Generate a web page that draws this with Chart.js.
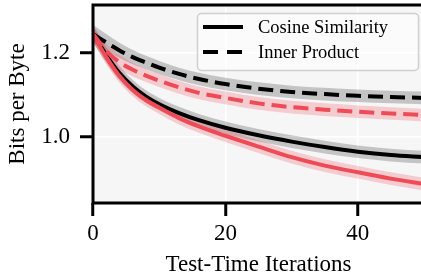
<!DOCTYPE html>
<html>
<head>
<meta charset="utf-8">
<script src="https://cdn.jsdelivr.net/npm/chart.js@4.4.1/dist/chart.umd.min.js"></script>
<style>
    html, body { margin: 0; padding: 0; background: #fff; overflow: hidden; }
    #wrap { position: relative; width: 424px; height: 280px; }
</style>
</head>
<body>
<div id="wrap"><canvas id="bppChart"></canvas></div>
<script>
// values
const iterations = [0, 2, 4, 6, 8, 10, 13, 16, 20, 25, 30, 35, 40, 45, 50];

const cosineBlack = [1.245, 1.195, 1.152, 1.120, 1.096, 1.078, 1.057, 1.040, 1.022, 1.004, 0.989, 0.976, 0.965, 0.957, 0.952];
const innerBlack  = [1.245, 1.225, 1.206, 1.190, 1.177, 1.165, 1.150, 1.138, 1.126, 1.115, 1.107, 1.102, 1.098, 1.095, 1.093];
const cosineRed   = [1.245, 1.190, 1.145, 1.112, 1.088, 1.070, 1.045, 1.025, 1.003, 0.977, 0.952, 0.932, 0.916, 0.901, 0.888];
const innerRed    = [1.245, 1.205, 1.178, 1.160, 1.146, 1.134, 1.118, 1.105, 1.093, 1.080, 1.071, 1.065, 1.060, 1.056, 1.052];

// half width of the shaded bands
const cosineBlackSpread = [0.020, 0.018, 0.017, 0.016, 0.015, 0.015, 0.015, 0.015, 0.015, 0.015, 0.015, 0.015, 0.015, 0.015, 0.015];
const innerBlackSpread  = [0.022, 0.020, 0.018, 0.017, 0.016, 0.016, 0.015, 0.015, 0.015, 0.015, 0.015, 0.015, 0.015, 0.015, 0.015];
const cosineRedSpread   = [0.018, 0.017, 0.016, 0.015, 0.015, 0.015, 0.015, 0.015, 0.015, 0.015, 0.015, 0.015, 0.015, 0.015, 0.015];
const innerRedSpread    = [0.020, 0.018, 0.017, 0.016, 0.015, 0.015, 0.015, 0.015, 0.015, 0.015, 0.015, 0.015, 0.015, 0.015, 0.015];

const xTicks = [0, 20, 40];
const yTicks = [1.0, 1.2];
const legendLabels = ['Cosine Similarity', 'Inner Product'];

const BLACK = '#000000';
const RED = '#EF4B57';
const SERIF = '"Liberation Serif", "Times New Roman", serif';

function pts(values) {
    return values.map((v, i) => ({x: iterations[i], y: v}));
}

function line(values, color, dash) {
    return {
        data: pts(values),
        borderColor: color,
        borderWidth: 4,
        borderDash: dash,
        pointRadius: 0,
        fill: false,
        cubicInterpolationMode: 'monotone'
    };
}

function band(values, spread, color) {
    let upper = values.map((v, i) => v + spread[i]);
    let lower = values.map((v, i) => v - spread[i]);
    return [{
        data: pts(upper),
        borderWidth: 0,
        pointRadius: 0,
        backgroundColor: color,
        fill: '+1',
        cubicInterpolationMode: 'monotone'
    }, {
        data: pts(lower),
        borderWidth: 0,
        pointRadius: 0,
        fill: false,
        cubicInterpolationMode: 'monotone'
    }];
}

// background, spines and legend box
const frame = {
    id: 'frame',
    beforeDraw(chart) {
        const {ctx, chartArea: a} = chart;
        ctx.save();
        ctx.fillStyle = '#f6f6f6';
        ctx.fillRect(a.left, a.top, a.right - a.left, a.bottom - a.top);
        ctx.restore();
    },
    afterDatasetsDraw(chart) {
        const {ctx, chartArea: a} = chart;
        ctx.save();
        ctx.strokeStyle = BLACK;
        ctx.lineWidth = 3;
        ctx.lineJoin = 'miter';
        ctx.beginPath();
        ctx.moveTo(a.right + 5, a.top);
        ctx.lineTo(a.left, a.top);
        ctx.lineTo(a.left, a.bottom);
        ctx.lineTo(a.right + 5, a.bottom);
        ctx.stroke();

        // legend
        ctx.beginPath();
        ctx.roundRect(197.5, 13.5, 221, 57, 4);
        ctx.fillStyle = 'rgba(255,255,255,0.6)';
        ctx.fill();
        ctx.strokeStyle = '#cfcfcf';
        ctx.lineWidth = 1.5;
        ctx.stroke();

        const dashes = [[], [15, 9]];
        legendLabels.forEach((label, i) => {
            let y = 27 + i * 25;
            ctx.beginPath();
            ctx.setLineDash(dashes[i]);
            ctx.strokeStyle = BLACK;
            ctx.lineWidth = 4;
            ctx.moveTo(203, y);
            ctx.lineTo(243, y);
            ctx.stroke();
            ctx.setLineDash([]);
            ctx.fillStyle = BLACK;
            ctx.font = '18.5px ' + SERIF;
            ctx.textBaseline = 'middle';
            ctx.textAlign = 'left';
            ctx.fillText(label, 258, y + 1);
        });
        ctx.restore();
    }
};

new Chart(document.getElementById('bppChart'), {
    type: 'line',
    data: {
        datasets: [
            line(cosineRed, RED, []),
            line(innerRed, RED, [15, 7]),
            line(cosineBlack, BLACK, []),
            line(innerBlack, BLACK, [15, 7]),
            ...band(cosineRed, cosineRedSpread, 'rgba(239,75,87,0.25)'),
            ...band(innerRed, innerRedSpread, 'rgba(239,75,87,0.25)'),
            ...band(cosineBlack, cosineBlackSpread, 'rgba(0,0,0,0.2)'),
            ...band(innerBlack, innerBlackSpread, 'rgba(0,0,0,0.2)')
        ]
    },
    options: {
        responsive: true,
        maintainAspectRatio: false,
        animation: false,
        devicePixelRatio: 1,
        layout: {padding: {left: 0, top: 5, right: 0, bottom: 0}},
        plugins: {
            legend: {display: false},
            tooltip: {enabled: false}
        },
        scales: {
            x: {
                type: 'linear',
                min: 0,
                max: 50,
                afterFit: s => { s.height = 77; s.paddingLeft = 0; s.paddingRight = 0; },
                afterBuildTicks: s => { s.ticks = xTicks.map(v => ({value: v})); },
                border: {display: false},
                grid: {color: '#ffffff', lineWidth: 1.5, tickLength: 13, tickColor: BLACK, tickWidth: 3},
                ticks: {
                    color: BLACK,
                    padding: 4,
                    maxRotation: 0,
                    font: {family: SERIF, size: 23},
                    callback: v => String(v)
                },
                title: {
                    display: true,
                    text: 'Test-Time Iterations',
                    color: BLACK,
                    padding: {top: 0, bottom: 3.5},
                    font: {family: SERIF, size: 23, lineHeight: 1}
                }
            },
            y: {
                min: 0.843,
                max: 1.314,
                afterFit: s => { s.width = 93; s.paddingTop = 0; s.paddingBottom = 0; },
                afterBuildTicks: s => { s.ticks = yTicks.map(v => ({value: v})); },
                border: {display: false},
                grid: {color: '#ffffff', lineWidth: 1.5, tickLength: 13, tickColor: BLACK, tickWidth: 3},
                ticks: {
                    color: BLACK,
                    padding: 10,
                    font: {family: SERIF, size: 23},
                    callback: v => v.toFixed(1)
                },
                title: {
                    display: true,
                    text: 'Bits per Byte',
                    color: BLACK,
                    padding: {top: 6, bottom: 0},
                    font: {family: SERIF, size: 23, lineHeight: 1}
                }
            }
        }
    },
    plugins: [frame]
});
</script>
</body>
</html>
